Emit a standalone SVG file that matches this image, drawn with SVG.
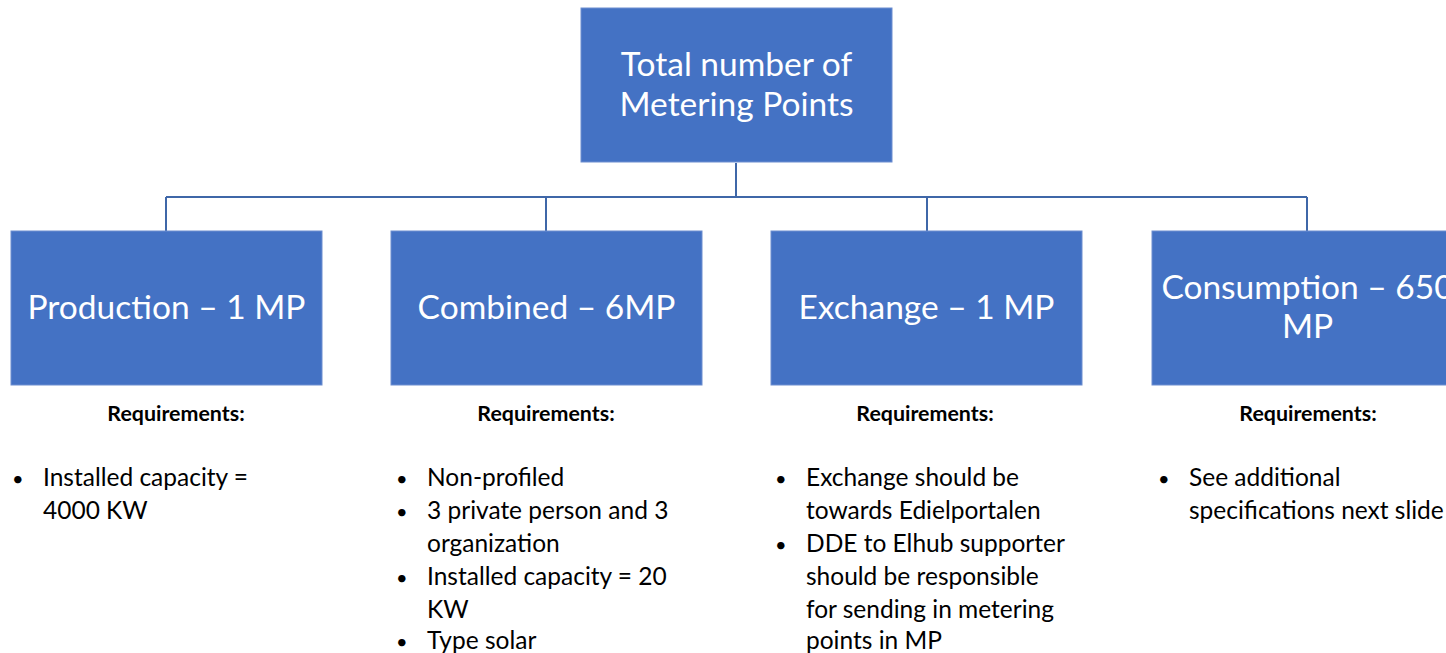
<svg xmlns="http://www.w3.org/2000/svg" width="1446" height="653" viewBox="0 0 1446 653">
<style>
.box{fill:#4472C4;stroke:#6C8ED0;stroke-width:1}
.title{font-family:Lato,"Open Sans",sans-serif;font-size:33.5px;fill:#fff;text-anchor:middle}
.req{font-family:Lato,"Open Sans",sans-serif;font-size:21.4px;font-weight:bold;fill:#000;text-anchor:middle}
.item{font-family:Lato,"Open Sans",sans-serif;font-size:24.5px;fill:#000}
.bul{font-family:Lato,"Open Sans",sans-serif;font-size:20px;fill:#000}
.conn{fill:none;stroke:#3F67A8;stroke-width:2}
</style>
<rect width="1446" height="653" fill="#fff"/>
<g id="connectors">
<path class="conn" d="M736 163V197M166 197H1307M166 197V231M546 197V231M927 197V231M1307 197V231"/>
</g>
<g id="root">
<rect class="box" x="581" y="8" width="311" height="154"/>
<text class="title" x="736.5" y="76">Total number of</text>
<text class="title" x="736.5" y="116">Metering Points</text>
</g>
<g id="production">
<rect class="box" x="11" y="231" width="311" height="154"/>
<text class="title" x="166.5" y="319">Production – 1 MP</text>
<text class="req" x="176" y="421">Requirements:</text>
<text class="bul" x="12" y="486">•</text>
<text class="item" x="43" y="486">Installed capacity =</text>
<text class="item" x="43" y="519">4000 KW</text>
</g>
<g id="combined">
<rect class="box" x="391" y="231" width="311" height="154"/>
<text class="title" x="546.5" y="319">Combined – 6MP</text>
<text class="req" x="546" y="421">Requirements:</text>
<text class="bul" x="396" y="486">•</text>
<text class="item" x="427" y="486">Non-profiled</text>
<text class="bul" x="396" y="519">•</text>
<text class="item" x="427" y="519">3 private person and 3</text>
<text class="item" x="427" y="552">organization</text>
<text class="bul" x="396" y="585">•</text>
<text class="item" x="427" y="585">Installed capacity = 20</text>
<text class="item" x="427" y="618">KW</text>
<text class="bul" x="396" y="649">•</text>
<text class="item" x="427" y="649">Type solar</text>
</g>
<g id="exchange">
<rect class="box" x="771" y="231" width="311" height="154"/>
<text class="title" x="926.5" y="319">Exchange – 1 MP</text>
<text class="req" x="925" y="421">Requirements:</text>
<text class="bul" x="775" y="486">•</text>
<text class="item" x="806" y="486">Exchange should be</text>
<text class="item" x="806" y="519">towards Edielportalen</text>
<text class="bul" x="775" y="552">•</text>
<text class="item" x="806" y="552">DDE to Elhub supporter</text>
<text class="item" x="806" y="585">should be responsible</text>
<text class="item" x="806" y="618">for sending in metering</text>
<text class="item" x="806" y="649">points in MP</text>
</g>
<g id="consumption">
<rect class="box" x="1152" y="231" width="311" height="154"/>
<text class="title" x="1307.5" y="299">Consumption – 650</text>
<text class="title" x="1307.5" y="338">MP</text>
<text class="req" x="1308" y="421">Requirements:</text>
<text class="bul" x="1158" y="486">•</text>
<text class="item" x="1189" y="486">See additional</text>
<text class="item" x="1189" y="519">specifications next slide</text>
</g>
</svg>
